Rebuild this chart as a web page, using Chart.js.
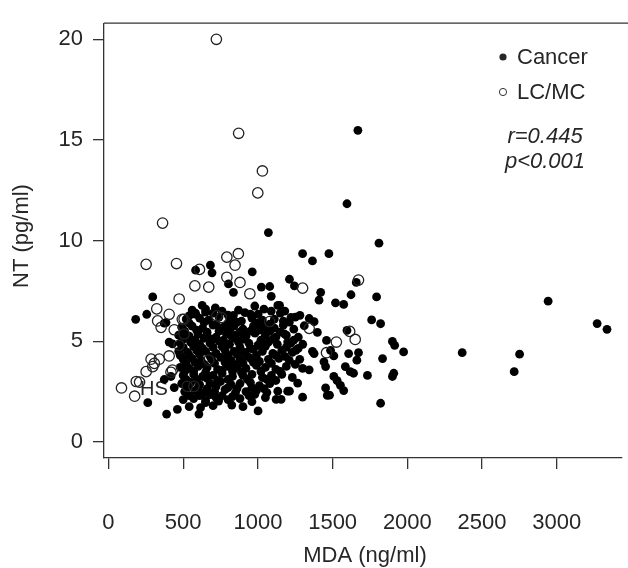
<!DOCTYPE html>
<html>
<head>
<meta charset="utf-8">
<script src="https://cdn.jsdelivr.net/npm/chart.js@4.4.1/dist/chart.umd.min.js"></script>
<style>
html,body{margin:0;padding:0;background:#fff;overflow:hidden;}
#wrap{width:628px;height:568px;}
</style>
</head>
<body>
<div id="wrap"><canvas id="chart" width="628" height="568"></canvas></div>
<script>

/* DATA : [MDA ng/ml , NT pg/ml] */

const cancerPoints=[
[1669,15.48],[1596,11.83],[1070,10.4],[1810,9.87],[1365,8.99],[1299,9.35],[1475,9.35],[1211,8.08],[1244,7.75],
[1658,7.92],[1420,7.43],[1409,7.04],[1623,7.31],[1794,7.2],[1519,6.91],[1574,6.83],[1145,6.78],[1221,6.18],
[1281,6.29],[1343,6.13],[1376,5.97],[1761,6.06],[1821,5.87],[1310,5.77],[1398,5.44],[1596,5.54],[1459,5.04],
[1900,4.99],[1915,4.8],[1975,4.47],[2367,4.43],[1178,5.36],[1199,4.96],[1254,4.55],[1365,4.5],[1376,4.39],
[1486,4.55],[1508,4.27],[1607,4.39],[1673,4.43],[1662,4.06],[1834,4.14],[1442,3.98],[1453,3.74],[1585,3.74],
[1618,3.49],[1640,3.41],[1299,3.65],[1343,3.58],[1733,3.3],[1909,3.41],[1900,3.25],[1508,3.25],[1530,3.04],
[1552,2.81],[1574,2.55],[1453,2.68],[1479,2.32],[1266,2.92],[1299,2.22],[1199,2.52],[1155,2.11],[1821,1.92],
[2942,6.99],[3270,5.88],[3336,5.59],[2751,4.36],[2715,3.49],
[682,8.78],[693,8.4],[962,8.45],[803,7.85],[836,7.43],[1023,7.69],[1079,7.72],[1089,7.23],[296,7.2],
[256,6.34],[182,6.09],[385,5.93],[373,5.9],[627,6.78],[715,6.66],[539,6.26],[583,6.39],[649,6.45],[836,6.29],
[913,6.42],[979,6.75],[1001,6.34],[1133,6.78],[1089,6.5],[583,8.53],[428,4.87],[406,4.96],[373,3.1],[418,3.25],[440,2.7],
[263,1.95],[389,1.38],[461,1.62],[605,1.38],[616,1.7],[649,1.95],[737,2.03],[825,1.83],[1001,1.54],[979,2.36],
[1133,2.52],[1211,2.52],[1122,2.11],[1464,2.31],
[560,6.55],[650,6.6],[760,6.5],[870,6.55],[1040,6.6],[1180,6.5],
[580,6.35],[700,6.4],[800,6.3],[950,6.35],[1150,6.4],
[520,6.1],[610,6.15],[670,6.05],[740,6.2],[820,6.1],[890,6.0],[960,6.15],[1030,6.05],[1110,6.1],[1170,6.0],[1250,6.2],
[540,5.9],[640,5.95],[720,5.85],[800,5.9],[860,5.95],[1000,5.9],[1080,5.85],[1210,5.95],
[490,5.7],[560,5.75],[630,5.65],[700,5.8],[770,5.7],[840,5.75],[900,5.6],[970,5.75],[1040,5.7],[1110,5.65],[1170,5.8],[1240,5.6],
[510,5.5],[590,5.55],[660,5.45],[740,5.5],[810,5.55],[880,5.45],[950,5.5],[1010,5.55],[1080,5.5],[1150,5.45],
[470,5.3],[540,5.25],[600,5.35],[660,5.3],[720,5.2],[790,5.35],[850,5.3],[920,5.25],[980,5.4],[1050,5.3],[1120,5.2],[1190,5.3],[1270,5.2],
[500,5.1],[580,5.05],[640,5.15],[700,5.1],[770,5.05],[830,5.15],[900,5.1],[1020,5.05],[1100,5.1],[1240,5.05],
[480,4.9],[550,4.95],[610,4.85],[680,4.9],[740,5.0],[810,4.85],[870,4.95],[940,4.9],[1000,4.8],[1070,4.95],[1130,4.85],[1220,4.9],[1300,4.85],
[500,4.7],[570,4.75],[630,4.65],[700,4.7],[760,4.75],[880,4.7],[950,4.65],[1050,4.75],[1190,4.7],[1270,4.65],
[470,4.5],[530,4.45],[590,4.55],[650,4.5],[720,4.4],[780,4.55],[840,4.5],[910,4.45],[970,4.6],[1030,4.5],[1100,4.4],[1160,4.55],[1230,4.45],
[480,4.3],[540,4.3],[610,4.35],[680,4.25],[800,4.3],[860,4.35],[930,4.25],[990,4.3],[1120,4.3],[1180,4.25],
[500,4.1],[560,4.15],[620,4.05],[690,4.1],[750,4.2],[820,4.05],[880,4.1],[950,4.15],[1010,4.0],[1070,4.1],[1140,4.15],[1210,4.05],[1280,4.1],
[520,3.9],[580,3.95],[640,3.85],[710,3.9],[780,3.95],[840,3.85],[900,3.9],[970,3.95],[1090,3.9],[1250,3.85],
[480,3.7],[540,3.65],[600,3.75],[660,3.7],[730,3.6],[800,3.75],[860,3.7],[920,3.65],[990,3.8],[1050,3.7],[1120,3.6],[1190,3.75],
[510,3.5],[570,3.5],[650,3.45],[760,3.55],[830,3.5],[890,3.45],[1020,3.5],[1150,3.5],
[500,3.3],[570,3.35],[630,3.25],[700,3.3],[760,3.4],[830,3.25],[900,3.3],[960,3.35],[1030,3.2],[1090,3.3],[1160,3.35],[1230,3.2],
[520,3.1],[590,3.1],[660,3.15],[730,3.05],[800,3.1],[930,3.1],[1060,3.1],[1120,3.05],
[490,2.9],[550,2.95],[610,2.85],[680,2.9],[750,3.0],[820,2.85],[880,2.9],[950,2.95],[1010,2.8],[1080,2.9],
[530,2.7],[600,2.7],[660,2.65],[720,2.75],[800,2.7],[860,2.65],[960,2.7],[1040,2.65],
[510,2.5],[580,2.55],[640,2.45],[710,2.5],[780,2.6],[850,2.45],[920,2.5],[990,2.55],[1060,2.45],
[540,2.3],[610,2.3],[680,2.35],[760,2.3],[830,2.25],[940,2.3],
[500,2.1],[570,2.15],[650,2.05],[720,2.2],[800,2.1],[880,2.15],[960,2.0],[1050,2.2],
[540,1.75],[700,1.8],[900,1.75]
];

const lcmcPoints=[
[722,20.0],[871,15.33],[1030,13.46],[999,12.37],[362,10.87],[252,8.82],[455,8.86],[609,8.57],[792,9.18],
[869,9.35],[847,8.78],[792,8.18],[880,7.92],[578,7.75],[671,7.69],[946,7.36],[473,7.1],[323,6.61],[406,6.34],
[329,6.01],[352,5.69],[506,6.09],[440,5.57],[506,5.36],[755,6.18],[726,6.26],[1079,5.98],[406,4.27],[340,4.11],
[285,4.11],[296,3.74],[252,3.49],[208,2.97],[87,2.68],[175,2.27],[418,3.46],[473,4.8],[671,4.06],[572,2.76],
[1299,7.64],[1673,8.04],[1343,5.64],[1614,5.49],[1651,5.09],[1525,4.96],[1459,4.43],[494,6.09],[186,3.0],
[307,3.9],[428,3.57],[527,2.76]
];

const xTicks=[0,500,1000,1500,2000,2500,3000];
const yTicks=[0,5,10,15,20];

const seriesNames=["Cancer","LC/MC"];
const statLines=["r=0.445","p<0.001"];


/* FONTS */

const FONT="'Liberation Sans', Arial, sans-serif";
const INK="#262626";


/* TEXT + FRAME PLUGIN */

const annotations={
id:"annotations",

beforeDatasetsDraw(chart){
const ctx=chart.ctx;
ctx.save();
ctx.fillStyle=INK;
ctx.font="20px "+FONT;
ctx.textAlign="left";
ctx.textBaseline="middle";
ctx.fillText("HS",140,389);
ctx.restore();
},

afterDraw(chart){
const ctx=chart.ctx;
const a=chart.chartArea;
ctx.save();

/* top line of box */
ctx.strokeStyle="#333";
ctx.lineWidth=1.3;
ctx.beginPath();
ctx.moveTo(a.left,a.top);
ctx.lineTo(628,a.top);
ctx.stroke();

ctx.fillStyle=INK;
ctx.textBaseline="middle";

/* legend */
ctx.beginPath();
ctx.arc(503,57,3.6,0,Math.PI*2);
ctx.fill();
ctx.lineWidth=1;
ctx.beginPath();
ctx.arc(503,92,3.6,0,Math.PI*2);
ctx.stroke();

ctx.font="22px "+FONT;
ctx.textAlign="left";
ctx.fillText(seriesNames[0],517,58);
ctx.fillText(seriesNames[1],517,93);

ctx.font="italic 22px "+FONT;
ctx.textAlign="center";
ctx.fillText(statLines[0],545,137);
ctx.fillText(statLines[1],545,162);

/* axis titles */
ctx.font="22px "+FONT;
ctx.fillText("MDA (ng/ml)",365,556);

ctx.translate(22,236);
ctx.rotate(-Math.PI/2);
ctx.fillText("NT (pg/ml)",0,0);

ctx.restore();
}
};


/* CHART */

new Chart(document.getElementById("chart"),{

type:"scatter",

data:{
datasets:[
{
label:seriesNames[1],
data:lcmcPoints.map(p=>({x:p[0],y:p[1]})),
pointStyle:"circle",
pointRadius:5.2,
pointBorderWidth:1.3,
pointBorderColor:"#222",
pointBackgroundColor:"rgba(0,0,0,0)",
order:0
},
{
label:seriesNames[0],
data:cancerPoints.map(p=>({x:p[0],y:p[1]})),
pointStyle:"circle",
pointRadius:4.4,
pointBorderWidth:0,
pointBackgroundColor:"#000",
order:1
}
]
},

options:{
responsive:false,
animation:false,
layout:{padding:{left:0,top:15,right:0,bottom:0}},
plugins:{
legend:{display:false},
tooltip:{enabled:false}
},

scales:{
x:{
type:"linear",
min:-30,
max:3433,
afterBuildTicks:s=>{s.ticks=xTicks.map(v=>({value:v}));},
afterFit:s=>{s.height=110;},
grid:{display:true,drawOnChartArea:false,drawTicks:true,tickLength:11,color:"#333",lineWidth:1.3},
border:{display:true,color:"#333",width:1.3},
ticks:{color:INK,font:{family:FONT,size:22},padding:41,maxRotation:0,callback:v=>String(v)}
},

y:{
type:"linear",
min:-0.8,
max:20.8,
afterBuildTicks:s=>{s.ticks=yTicks.map(v=>({value:v}));},
afterFit:s=>{s.width=104;},
grid:{display:true,drawOnChartArea:false,drawTicks:true,tickLength:11,color:"#333",lineWidth:1.3},
border:{display:true,color:"#333",width:1.3},
ticks:{color:INK,font:{family:FONT,size:22},padding:10,callback:v=>String(v)}
}
}
},

plugins:[annotations]

});

</script>
</body>
</html>
